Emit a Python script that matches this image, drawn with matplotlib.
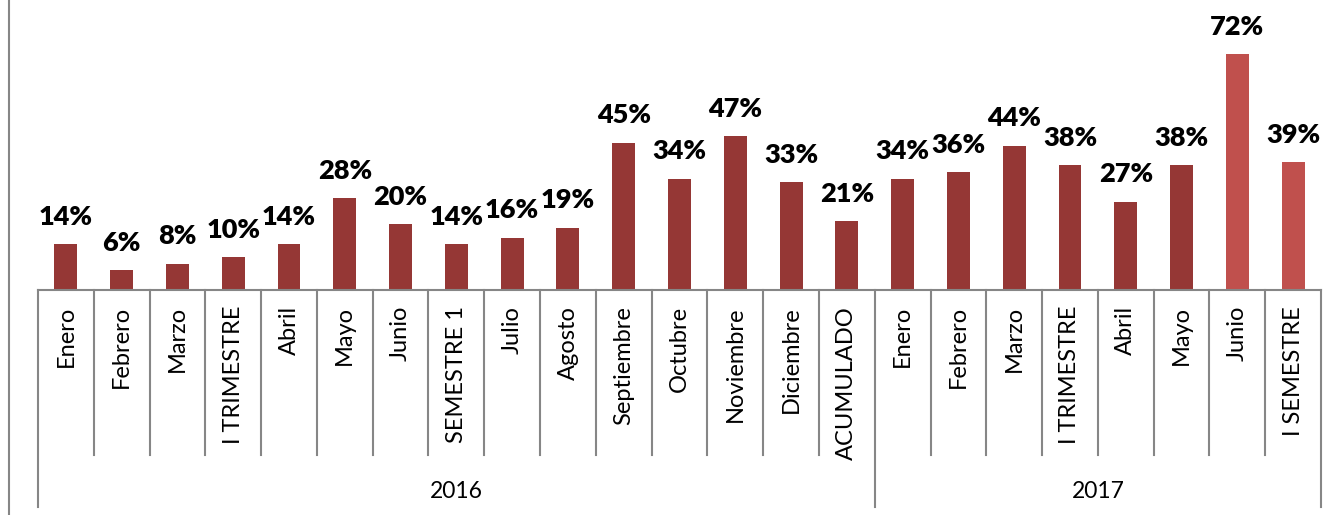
import matplotlib.pyplot as plt
from matplotlib.transforms import blended_transform_factory
from matplotlib.lines import Line2D

# Chart data
months = ["Enero", "Febrero", "Marzo", "I TRIMESTRE", "Abril", "Mayo", "Junio",
          "SEMESTRE 1", "Julio", "Agosto", "Septiembre", "Octubre", "Noviembre",
          "Diciembre", "ACUMULADO",
          "Enero", "Febrero", "Marzo", "I TRIMESTRE", "Abril", "Mayo", "Junio",
          "I SEMESTRE"]
values = [14, 6, 8, 10, 14, 28, 20, 14, 16, 19, 45, 34, 47, 33, 21,
          34, 36, 44, 38, 27, 38, 72, 39]
years = ["2016", "2017"]
year_sizes = [15, 8]

dark = "#953735"
light = "#C0504D"
grid = "#868686"
colors = [dark] * 21 + [light] * 2

plt.rcParams["font.family"] = ["Lato", "DejaVu Sans"]

W, H = 1337, 515
fig = plt.figure(figsize=(W / 100, H / 100), dpi=100)

# Axes in pixel coordinates: left 38, right 1321, baseline 290, top 0
ax = fig.add_axes([38 / W, 1 - 290 / H, (1321 - 38) / W, 290 / H])
px_per_pct = (290 - 54) / 72.0
ax.set_ylim(0, 290 / px_per_pct)
ax.set_xlim(-0.5, len(values) - 0.5)

x = list(range(len(values)))
ax.bar(x, values, width=0.41, color=colors, zorder=2)

for xi, v in zip(x, values):
    ax.annotate(f"{v}%", (xi, v), xytext=(0, 11), textcoords="offset points",
                ha="center", va="bottom", fontsize=19.5, fontweight="heavy",
                color="black")

ax.axis("off")

trans = blended_transform_factory(ax.transData, ax.transAxes)
px = lambda y: -(y - 290) / 290.0  # figure pixel row -> axes fraction

# baseline
ax.add_line(Line2D([-0.5, len(values) - 0.5], [0, 0], transform=trans,
                   color=grid, lw=1.5, clip_on=False))

# category separators
bounds = [i - 0.5 for i in range(len(values) + 1)]
year_edges = [-0.5, year_sizes[0] - 0.5, len(values) - 0.5]
for b in bounds:
    bottom = 507 if b in year_edges else 455
    ax.add_line(Line2D([b, b], [0, px(bottom)], transform=trans,
                       color=grid, lw=1.5, clip_on=False))

# category labels
for xi, name in zip(x, months):
    ax.text(xi, px(306), name, transform=trans, rotation=90,
            ha="center", va="top", fontsize=17, color="black")

# year labels
start = 0
for yr, n in zip(years, year_sizes):
    ax.text(start + (n - 1) / 2.0, px(492), yr, transform=trans,
            ha="center", va="center", fontsize=16.5, color="black")
    start += n

# left frame edge
fig.add_artist(Line2D([9 / W, 9 / W], [0, 1], transform=fig.transFigure,
                      color=grid, lw=1.5))

fig.savefig("out.png", dpi=100)
